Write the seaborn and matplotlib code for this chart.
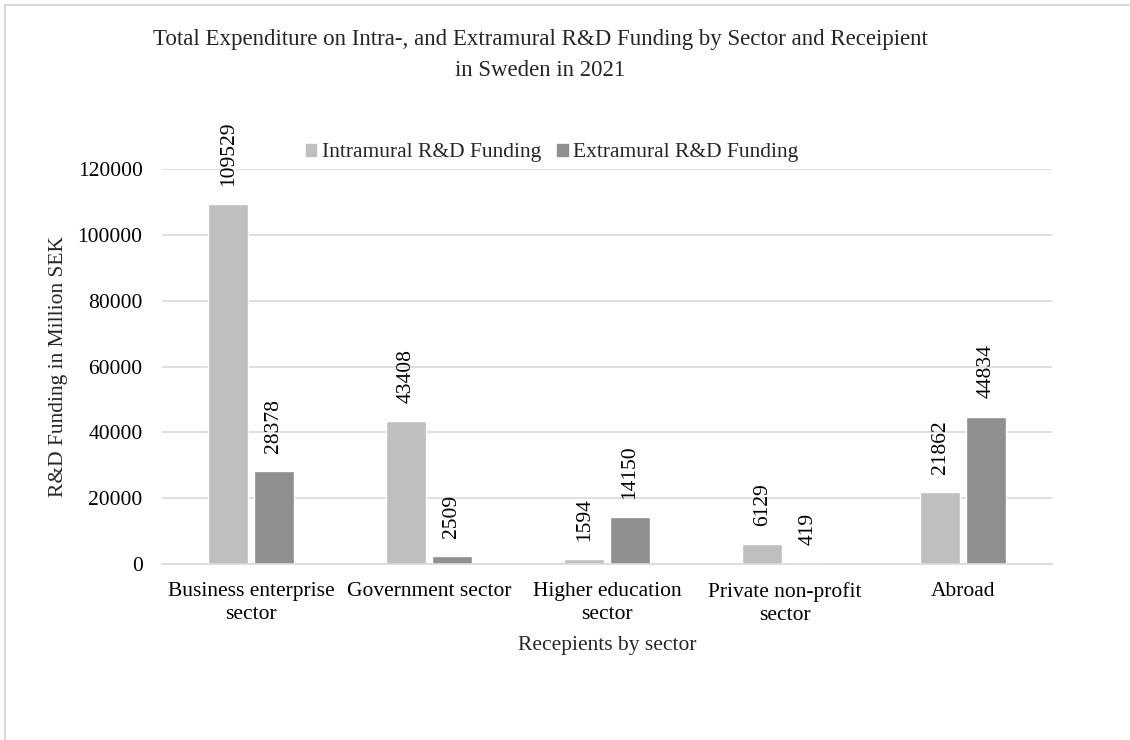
import matplotlib
matplotlib.use("Agg")
import matplotlib.pyplot as plt
from matplotlib.patches import Rectangle
import seaborn as sns
import pandas as pd

# Recipient sectors and funding (million SEK)
sectors = ["Business enterprise\nsector", "Government sector", "Higher education\nsector",
           "Private non-profit\nsector", "Abroad"]
intramural = [109529, 43408, 1594, 6129, 21862]
extramural = [28378, 2509, 14150, 419, 44834]
series_names = ["Intramural R&D Funding", "Extramural R&D Funding"]
series_colors = ["#BFBFBF", "#8F8F8F"]
y_ticks = [0, 20000, 40000, 60000, 80000, 100000, 120000]

df = pd.DataFrame({
    "sector": sectors * 2,
    "value": intramural + extramural,
    "series": [series_names[0]] * len(sectors) + [series_names[1]] * len(sectors),
})

sns.set_style("white")
plt.rcParams["font.family"] = ["Liberation Serif", "DejaVu Serif"]

FS = 15.5

fig = plt.figure(figsize=(11.3, 7.4), dpi=100)
ax = fig.add_axes([162 / 1130, 1 - 564 / 740, 890 / 1130, (564 - 169.3) / 740])

sns.barplot(data=df, x="sector", y="value", hue="series", order=sectors,
            hue_order=series_names, palette=series_colors, width=0.51, gap=0.12,
            saturation=1, ax=ax, legend=False)

for cont in ax.containers:
    ax.bar_label(cont, labels=[f"{int(v)}" for v in cont.datavalues], rotation=90,
                 padding=13, fontsize=FS, color="#000000", clip_on=False)

ax.set_ylim(0, 120000)
ax.set_yticks(y_ticks)
ax.set_yticklabels([str(t) for t in y_ticks])
ax.set_xlim(-0.5, len(sectors) - 0.5)
ax.set_xticks(range(len(sectors)))
ax.set_xticklabels(sectors, linespacing=1.3)
ax.yaxis.grid(True, color="#D9D9D9", linewidth=1.2)
ax.set_axisbelow(True)
for s in ["top", "right", "left"]:
    ax.spines[s].set_visible(False)
ax.spines["bottom"].set_color("#D9D9D9")
ax.spines["bottom"].set_linewidth(1.2)
ax.tick_params(axis="both", length=0, labelsize=FS, colors="#000000")
ax.tick_params(axis="x", pad=13)
ax.tick_params(axis="y", pad=14)

ax.set_xlabel("Recepients by sector", fontsize=FS, labelpad=8)
ax.set_ylabel("R&D Funding in Million SEK", fontsize=FS, labelpad=7)

fig.text(540 / 1130, 1 - 40 / 740, "Total Expenditure on Intra-, and Extramural R&D Funding by Sector and Receipient",
         ha="center", va="center", fontsize=16.5)
fig.text(540 / 1130, 1 - 70 / 740, "in Sweden in 2021", ha="center", va="center", fontsize=16.5)

handles = [Rectangle((0, 0), 1, 1, color=c) for c in series_colors]
fig.legend(handles, series_names, loc="center", bbox_to_anchor=(552 / 1130, 1 - 153 / 740),
           ncol=2, frameon=False, fontsize=FS, handlelength=0.5, handleheight=0.5,
           handletextpad=0.25, columnspacing=0.75)

# chart frame
fig.patches.append(Rectangle((5 / 1130, -0.1), 1.2, 1 - 5 / 740 + 0.1, transform=fig.transFigure,
                             fill=False, edgecolor="#D9D9D9", linewidth=1.5))

fig.savefig("out.png", dpi=100)
